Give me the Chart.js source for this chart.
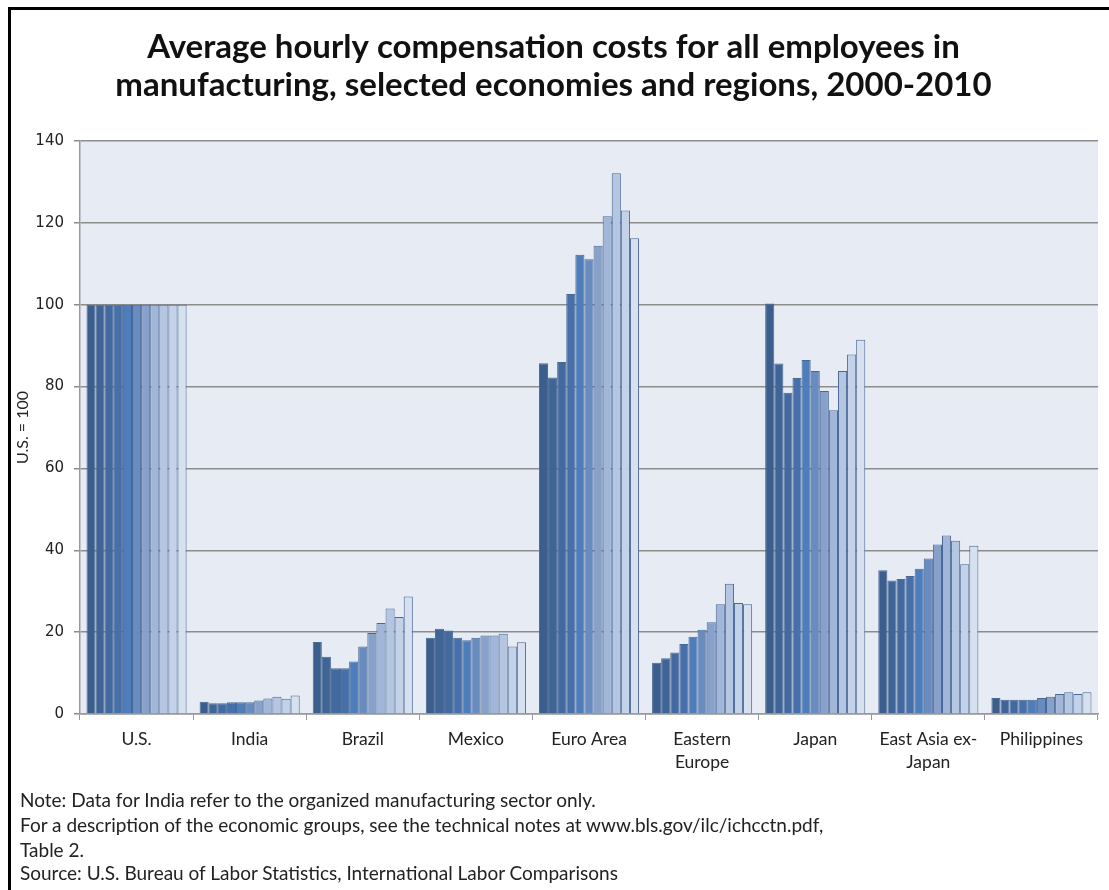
<!DOCTYPE html>
<html>
<head>
<meta charset="utf-8">
<script src="https://cdn.jsdelivr.net/npm/chart.js@4.4.1/dist/chart.umd.min.js"></script>
<style>
    html, body { margin: 0; padding: 0; background: #fff; overflow: hidden; }
    #wrap { position: relative; width: 1109px; height: 890px; }
    #frame {
        position: absolute; left: 8px; top: 7px; width: 1120px; height: 900px;
        border-left: 3px solid #000; border-top: 3px solid #000; pointer-events: none;
    }
    .note {
        position: absolute; left: 20px; font-family: Lato, sans-serif; font-size: 19px;
        line-height: 23px; color: #222; white-space: nowrap;
    }
</style>
</head>
<body>
<div id="wrap">
    <canvas id="chart" width="1109" height="890"></canvas>
    <div id="frame"></div>
    <div class="note" style="top:788px">Note: Data for India refer to the organized manufacturing sector only.</div>
    <div class="note" style="top:813px">For a description of the economic groups, see the technical notes at www.bls.gov/ilc/ichcctn.pdf,</div>
    <div class="note" style="top:838px">Table 2.</div>
    <div class="note" style="top:861px">Source: U.S. Bureau of Labor Statistics, International Labor Comparisons</div>
</div>
<script>
// categories and years
var categories = ['U.S.', 'India', 'Brazil', 'Mexico', 'Euro Area', ['Eastern', 'Europe'], 'Japan', ['East Asia ex-', 'Japan'], 'Philippines'];
var years = ['2000', '2001', '2002', '2003', '2004', '2005', '2006', '2007', '2008', '2009', '2010'];

// values, U.S. = 100, one array per economy (2000..2010)
var usValues = [100, 100, 100, 100, 100, 100, 100, 100, 100, 100, 100];
var indiaValues = [3.0, 2.6, 2.6, 2.9, 2.9, 2.9, 3.3, 3.8, 4.2, 3.7, 4.5];
var brazilValues = [17.6, 14.0, 11.2, 11.2, 12.8, 16.5, 19.8, 22.2, 25.8, 23.7, 28.7];
var mexicoValues = [18.6, 20.8, 20.4, 18.6, 18.0, 18.6, 19.2, 19.2, 19.6, 16.5, 17.5];
var euroValues = [85.7, 82.2, 86.0, 102.6, 112.2, 111.1, 114.4, 121.6, 132.1, 123.0, 116.2];
var easternEuropeValues = [12.5, 13.6, 15.0, 17.1, 18.9, 20.6, 22.4, 26.8, 31.8, 27.1, 26.8];
var japanValues = [100.3, 85.6, 78.5, 82.1, 86.5, 83.8, 78.9, 74.2, 83.8, 87.8, 91.4];
var eastAsiaValues = [35.1, 32.6, 33.0, 33.7, 35.5, 38.0, 41.4, 43.6, 42.3, 36.6, 41.1];
var philippinesValues = [3.9, 3.5, 3.5, 3.5, 3.5, 3.9, 4.2, 4.9, 5.3, 4.9, 5.3];

var yearColors = ['#3b5e8c', '#3f6496', '#436aa0', '#4770aa', '#4d7ebb', '#688bc0', '#87a1cb', '#a1b6d8', '#b4c6e2', '#c4d2e9', '#d6e0ef'];

var byCountry = [usValues, indiaValues, brazilValues, mexicoValues, euroValues,
    easternEuropeValues, japanValues, eastAsiaValues, philippinesValues];

var datasets = years.map(function(year, i) {
    return {
        label: year,
        data: byCountry.map(function(arr) { return arr[i]; }),
        backgroundColor: yearColors[i],
        borderColor: '#4a6894',
        borderWidth: 1,
        categoryPercentage: 0.885,
        barPercentage: 1.0
    };
});

// light plot background
var plotBackground = {
    id: 'plotBackground',
    beforeDraw: function(chart) {
        var a = chart.chartArea, ctx = chart.ctx;
        ctx.save();
        ctx.fillStyle = '#e7ecf4';
        ctx.fillRect(a.left, a.top, a.right - a.left, a.bottom - a.top);
        ctx.restore();
    }
};

new Chart(document.getElementById('chart').getContext('2d'), {
    type: 'bar',
    data: { labels: categories, datasets: datasets },
    plugins: [plotBackground],
    options: {
        responsive: false,
        animation: false,
        layout: { padding: { left: 9, right: 11, top: 0, bottom: 110 } },
        plugins: {
            legend: { display: false },
            tooltip: { enabled: false },
            title: {
                display: true,
                text: ['Average hourly compensation costs for all employees in',
                       'manufacturing, selected economies and regions, 2000-2010'],
                font: { family: 'Lato', size: 33, weight: 'bold', lineHeight: 1.15 },
                color: '#111',
                padding: { top: 28, bottom: 37 }
            }
        },
        scales: {
            x: {
                grid: { display: true, offset: true, drawOnChartArea: false, drawTicks: true,
                        tickLength: 6, color: '#999' },
                border: { color: '#999', width: 1.5 },
                ticks: { color: '#222', font: { family: 'Lato', size: 17.5, lineHeight: 1.3 }, padding: 8,
                         maxRotation: 0, autoSkip: false },
                afterFit: function(scale) { scale.height = 66; }
            },
            y: {
                min: 0, max: 140,
                ticks: { stepSize: 20, color: '#222', font: { family: 'DejaVu Sans', size: 15 }, padding: 10 },
                grid: { color: '#8c8c8c', lineWidth: 1.5, tickLength: 6, drawTicks: true },
                border: { color: '#999', width: 1.5 },
                title: { display: true, text: 'U.S. = 100', color: '#222',
                         font: { family: 'Lato', size: 16 }, padding: 4 },
                afterFit: function(scale) { scale.width = 71; }
            }
        }
    }
});
</script>
</body>
</html>
